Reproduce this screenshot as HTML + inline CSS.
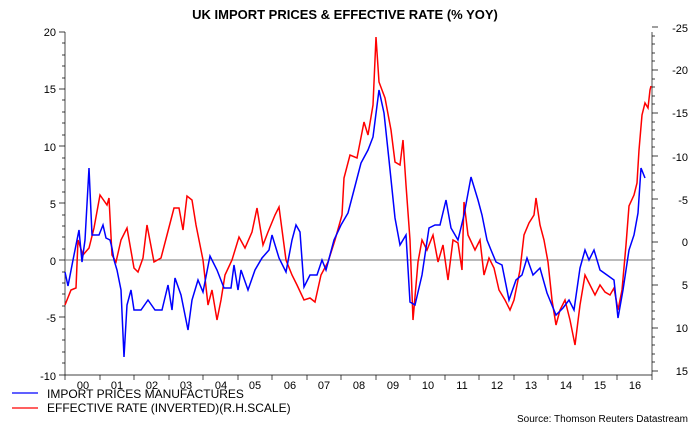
<!DOCTYPE html>
<html><head><style>body{margin:0;background:#fff}svg{display:block;font-family:"Liberation Sans",Arial,sans-serif}</style></head><body>
<svg width="690" height="430" viewBox="0 0 690 430">
<text x="345" y="19" text-anchor="middle" font-size="13" font-weight="bold" fill="#000">UK IMPORT PRICES &amp; EFFECTIVE RATE (% YOY)</text>
<g stroke="#000" stroke-width="0.7" fill="none">
<line x1="65" y1="32" x2="65" y2="375"/>
<line x1="652" y1="32" x2="652" y2="375"/>
<line x1="65" y1="375" x2="652" y2="375"/>
</g>
<line x1="65" y1="260" x2="652" y2="260" stroke="#777" stroke-width="1"/>
<g id="lt" stroke="#000" stroke-width="0.7"></g>
<g font-size="11" fill="#000" text-anchor="end">
<text x="56" y="36">20</text><text x="56" y="93">15</text><text x="56" y="151">10</text><text x="56" y="208">5</text><text x="56" y="265">0</text><text x="56" y="322">-5</text><text x="56" y="380">-10</text>
</g>
<g font-size="11" fill="#000" text-anchor="end">
<text x="688" y="32">-25</text><text x="688" y="74">-20</text><text x="688" y="117">-15</text><text x="688" y="161">-10</text><text x="688" y="204">-5</text><text x="688" y="246">0</text><text x="688" y="289">5</text><text x="688" y="332">10</text><text x="688" y="375">15</text>
</g>
<g font-size="11" fill="#000" text-anchor="middle">
<text x="83" y="389">00</text><text x="117" y="389">01</text><text x="152" y="389">02</text><text x="186" y="389">03</text><text x="221" y="389">04</text><text x="255" y="389">05</text><text x="290" y="389">06</text><text x="324" y="389">07</text><text x="359" y="389">08</text><text x="393" y="389">09</text><text x="428" y="389">10</text><text x="462" y="389">11</text><text x="497" y="389">12</text><text x="531" y="389">13</text><text x="566" y="389">14</text><text x="600" y="389">15</text><text x="635" y="389">16</text>
</g>
<polyline fill="none" stroke="#ff0000" stroke-width="1.5" points="65,305 71,290 76,288 78,240 83,255 89,248 94,228 100,195 107,205 109,198 112,255 116,262 121,240 127,228 134,268 138,272 143,258 147,225 154,262 161,258 167,235 174,208 179,208 183,230 187,196 192,200 196,225 203,260 208,305 212,290 217,320 221,300 225,275 232,260 239,237 245,248 252,232 257,208 263,245 268,232 275,215 279,207 286,260 292,275 297,285 304,300 310,298 315,302 321,275 328,262 335,240 342,215 344,178 350,155 357,158 364,122 368,135 373,105 376,37 379,82 385,98 391,130 395,162 400,165 403,140 406,185 410,240 413,320 418,262 422,240 427,250 433,235 438,262 443,245 448,280 453,240 458,243 462,270 464,202 468,235 475,250 480,240 484,275 489,258 494,268 499,290 505,300 510,310 514,300 520,270 524,235 529,223 534,215 536,198 540,225 544,240 548,262 552,300 556,325 560,310 565,300 570,320 575,345 580,305 585,275 590,285 595,295 600,285 605,292 610,295 614,288 618,310 622,290 626,245 629,206 634,195 637,183 639,150 642,115 645,103 648,108 650,90 651,86"/>
<polyline fill="none" stroke="#0000ff" stroke-width="1.5" points="65,272 68,286 73,260 79,230 82,262 85,240 89,168 92,235 99,235 103,225 106,238 110,240 112,248 114,260 117,270 121,290 124,357 127,305 131,290 134,310 141,310 148,300 155,310 162,310 168,285 172,310 175,278 181,295 188,330 192,300 198,280 203,292 210,256 217,270 224,288 231,288 234,265 238,290 241,270 248,290 255,270 262,258 269,250 272,235 279,258 286,272 292,240 296,225 300,232 304,287 310,275 317,275 322,260 326,270 334,240 341,225 348,213 354,190 361,163 368,150 373,137 379,90 384,113 389,160 395,218 400,245 406,235 410,302 415,305 422,275 429,228 435,225 440,225 446,200 451,228 458,240 464,215 471,177 478,200 482,215 487,240 491,250 496,262 502,265 509,300 516,280 522,275 527,258 533,275 540,268 547,293 556,315 563,308 569,300 574,310 580,268 585,250 589,260 594,250 600,270 607,275 614,280 618,318 623,290 629,250 634,235 638,213 641,168 645,178"/>
<line x1="12" y1="393" x2="38" y2="393" stroke="#0000ff" stroke-width="1.2"/>
<line x1="12" y1="408" x2="38" y2="408" stroke="#ff0000" stroke-width="1.2"/>
<text x="47" y="398" font-size="12">IMPORT PRICES MANUFACTURES</text>
<text x="47" y="412" font-size="12">EFFECTIVE RATE (INVERTED)(R.H.SCALE)</text>
<text x="688" y="422" font-size="10" text-anchor="end">Source: Thomson Reuters Datastream</text>
<g stroke="#000" stroke-width="0.7">
<path d="M65 32h-6M65 89h-6M65 146h-6M65 203h-6M65 260h-6M65 317h-6M65 375h-6"/>
<path d="M65 43h-3M65 55h-3M65 66h-3M65 78h-3M65 100h-3M65 112h-3M65 123h-3M65 135h-3M65 158h-3M65 169h-3M65 180h-3M65 192h-3M65 215h-3M65 226h-3M65 237h-3M65 249h-3M65 272h-3M65 283h-3M65 294h-3M65 306h-3M65 329h-3M65 340h-3M65 352h-3M65 363h-3"/>
<path d="M652 27h6M652 70h6M652 113h6M652 156h6M652 199h6M652 242h6M652 285h6M652 328h6M652 371h6"/>
<path d="M652 36h3M652 44h3M652 53h3M652 61h3M652 79h3M652 87h3M652 96h3M652 104h3M652 122h3M652 130h3M652 139h3M652 147h3M652 165h3M652 173h3M652 182h3M652 190h3M652 208h3M652 216h3M652 225h3M652 233h3M652 251h3M652 259h3M652 268h3M652 276h3M652 294h3M652 302h3M652 311h3M652 319h3M652 337h3M652 345h3M652 354h3M652 362h3"/>
<path d="M65 375v5M100 375v5M134 375v5M169 375v5M203 375v5M238 375v5M272 375v5M307 375v5M341 375v5M376 375v5M410 375v5M445 375v5M479 375v5M514 375v5M548 375v5M583 375v5M617 375v5M652 375v5"/>
</g>
</svg>
</body></html>
